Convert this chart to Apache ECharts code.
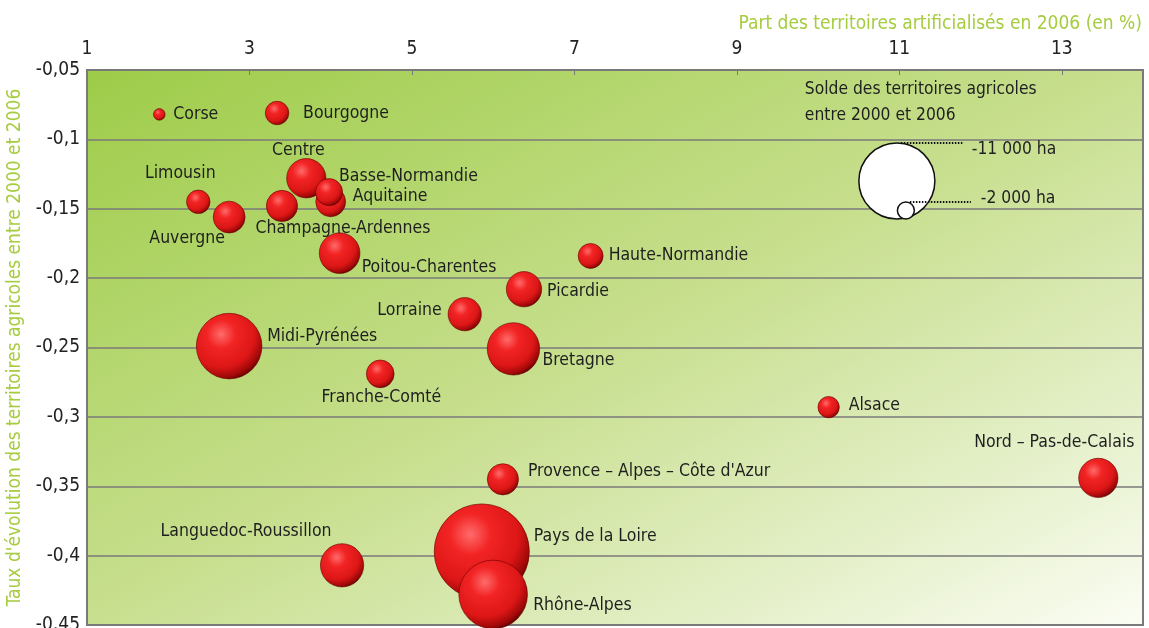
<!DOCTYPE html>
<html>
<head>
<meta charset="utf-8">
<script src="https://cdn.jsdelivr.net/npm/echarts@6/dist/echarts.min.js"></script>
<style>
html,body{margin:0;padding:0;background:#fff}
#chart{width:1149px;height:628px}
</style>
</head>
<body>
<div id="chart"></div>
<script>
// données
const regions = ['Corse','Bourgogne','Limousin','Auvergne','Champagne-Ardennes','Centre','Aquitaine','Basse-Normandie',
  'Poitou-Charentes','Haute-Normandie','Picardie','Lorraine','Midi-Pyrénées','Bretagne','Franche-Comté','Alsace',
  'Nord – Pas-de-Calais','Provence – Alpes – Côte d\'Azur','Languedoc-Roussillon','Pays de la Loire','Rhône-Alpes']
const partArtif = [1.89,3.34,2.37,2.75,3.40,3.70,4.00,3.98,4.11,7.20,6.38,5.65,2.75,6.25,4.61,10.13,13.45,6.12,4.14,5.86,6.00]
const tauxEvol = [-0.082,-0.081,-0.145,-0.156,-0.148,-0.128,-0.145,-0.138,-0.182,-0.184,-0.208,-0.226,-0.249,-0.251,-0.269,-0.293,-0.344,-0.345,-0.407,-0.397,-0.428]
const soldeHa = [-1300,-2900,-2900,-4100,-4000,-5200,-3800,-3400,-5400,-3100,-4600,-4300,-9300,-7200,-3500,-2600,-5200,-4000,-5800,-14200,-9800]
const legendSolde = [-11000,-2000]
const legendLabels = ['-11 000 ha','-2 000 ha']
const xTicks = [1,3,5,7,9,11,13]
const xMax = 14
const yTicks = [-0.45,-0.4,-0.35,-0.3,-0.25,-0.2,-0.15,-0.1,-0.05]

// position des étiquettes : [dx, dy, align]
const labelPos = {
  'Corse':[14,0,'left'],
  'Bourgogne':[26,0,'left'],
  'Centre':[-8,-28,'center'],
  'Basse-Normandie':[10,-16,'left'],
  'Aquitaine':[22,-5,'left'],
  'Limousin':[-18,-28,'center'],
  'Auvergne':[-42,21,'center'],
  'Champagne-Ardennes':[61,22,'center'],
  'Poitou-Charentes':[22,14,'left'],
  'Haute-Normandie':[18,0,'left'],
  'Picardie':[23,2,'left'],
  'Lorraine':[-23,-4,'right'],
  'Midi-Pyrénées':[38,-10,'left'],
  'Bretagne':[29,12,'left'],
  'Franche-Comté':[1,24,'center'],
  'Alsace':[20,-2,'left'],
  'Nord – Pas-de-Calais':[-44,-35,'center'],
  'Provence – Alpes – Côte d\'Azur':[25,-8,'left'],
  'Languedoc-Roussillon':[-96,-34,'center'],
  'Pays de la Loire':[52,-15,'left'],
  'Rhône-Alpes':[40,11,'left']
}

const FONT = 'DejaVu Sans Condensed, DejaVu Sans, sans-serif'
const GREEN = '#a6cc3f'

// diamètre de la bulle selon le solde (ha)
function bubbleSize(v){
  return 76*Math.pow(Math.abs(v)/11000,0.88)
}

const chart = echarts.init(document.getElementById('chart'))

const redBall = {
  type:'radial', x:0.38, y:0.32, r:0.72,
  colorStops:[
    {offset:0,color:'#ff6b6b'},
    {offset:0.3,color:'#f22424'},
    {offset:0.7,color:'#dc1616'},
    {offset:0.9,color:'#a00808'},
    {offset:1,color:'#5a0000'}
  ]
}

const bubbleData = regions.map((name,i)=>{
  const p = labelPos[name]
  return {
    name:name,
    value:[partArtif[i],tauxEvol[i],soldeHa[i]],
    label:{
      show:true,
      position:'inside',
      align:p[2],
      verticalAlign:'middle',
      offset:[p[0],p[1]],
      formatter:name,
      color:'#1f1f1f',
      fontSize:17.5,
      fontFamily:FONT
    }
  }
})

const legendX = 10.97, legendY = -0.13
const rBig = bubbleSize(legendSolde[0])/2
const rSmall = bubbleSize(legendSolde[1])/2

const fmt = v => String(+(+v).toFixed(2)).replace('.',',')

chart.setOption({
  animation:false,
  title:{
    text:'Part des territoires artificialisés en 2006 (en %)',
    right:2, top:10,
    textStyle:{color:GREEN,fontSize:19,fontWeight:'normal',fontFamily:FONT}
  },
  grid:{
    left:87, top:70, right:6, bottom:3,
    outerBoundsMode:'none',
    containLabel:false,
    show:true,
    borderColor:'#7a7a7a',
    borderWidth:2,
    backgroundColor:{
      type:'linear', x:0, y:0, x2:0.433, y2:1.567,
      colorStops:[
        {offset:0,color:'#9dcc48'},
        {offset:0.5,color:'#c8df8f'},
        {offset:0.78,color:'#e3efc6'},
        {offset:1,color:'#fbfdf4'}
      ]
    }
  },
  xAxis:{
    type:'value',
    position:'top',
    min:xTicks[0],
    max:xMax,
    interval:xTicks[1]-xTicks[0],
    axisLine:{show:false},
    axisTick:{show:true,inside:true,length:5,lineStyle:{color:'#7a7a7a',width:1}},
    splitLine:{show:false},
    axisLabel:{color:'#222',fontSize:19,fontFamily:FONT,margin:11,showMaxLabel:false,formatter:fmt}
  },
  yAxis:{
    type:'value',
    min:yTicks[0],
    max:yTicks[yTicks.length-1],
    interval:0.05,
    name:'Taux d\'évolution des territoires agricoles entre 2000 et 2006',
    nameLocation:'middle',
    nameGap:59,
    nameTextStyle:{color:GREEN,fontSize:19,fontFamily:FONT},
    axisLine:{show:false},
    axisTick:{show:false},
    splitLine:{show:true,lineStyle:{color:'#7a7a7a',width:1.5}},
    axisLabel:{color:'#222',fontSize:19,fontFamily:FONT,margin:7,formatter:fmt}
  },
  series:[
    {
      type:'scatter',
      data:bubbleData,
      symbolSize:v=>bubbleSize(v[2]),
      itemStyle:{color:redBall,borderColor:'#6a0000',borderWidth:0.6,opacity:1},
      z:3
    },
    {
      type:'scatter',
      data:[
        {value:[legendX,legendY,legendSolde[0]]},
        {value:[legendX,legendY,legendSolde[1]],symbolOffset:[9,rBig-rSmall]}
      ],
      symbolSize:v=>bubbleSize(v[2]),
      itemStyle:{color:'#fff',borderColor:'#111',borderWidth:1.5,opacity:1},
      z:3
    }
  ]
})

// légende : lignes pointillées et textes
const c = chart.convertToPixel({gridIndex:0},[legendX,legendY])
const topBig = c[1]-rBig
const topSmall = c[1]+rBig-2*rSmall
const dotted = {stroke:'#111',lineWidth:2,lineDash:[1.5,1.5]}
const txtStyle = {fill:'#1f1f1f',fontSize:17.3,fontFamily:FONT,verticalAlign:'middle',textAlign:'left'}
chart.setOption({
  graphic:[
    {type:'line',shape:{x1:c[0]+4,y1:topBig,x2:c[0]+67,y2:topBig},style:dotted,z:10},
    {type:'line',shape:{x1:c[0]+13,y1:topSmall,x2:c[0]+74,y2:topSmall},style:dotted,z:10},
    {type:'text',x:c[0]+75,y:topBig+7,style:Object.assign({text:legendLabels[0]},txtStyle),z:10},
    {type:'text',x:c[0]+84,y:topSmall-4,style:Object.assign({text:legendLabels[1]},txtStyle),z:10},
    {type:'text',x:c[0]-92,y:c[1]-91,style:Object.assign({text:'Solde des territoires agricoles'},txtStyle),z:10},
    {type:'text',x:c[0]-92,y:c[1]-65,style:Object.assign({text:'entre 2000 et 2006'},txtStyle),z:10}
  ]
})
</script>
</body>
</html>
